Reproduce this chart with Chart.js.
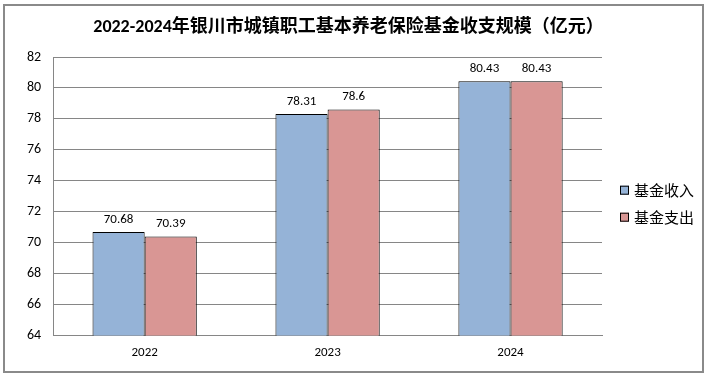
<!DOCTYPE html>
<html><head><meta charset="utf-8">
<script src="https://cdn.jsdelivr.net/npm/chart.js@4/dist/chart.umd.min.js"></script>
<style>
html,body{margin:0;padding:0;background:#fff;}
#frame{position:absolute;left:3px;top:4px;width:697px;height:365px;border:2px solid #8a8a8a;background:#fff;}
canvas{display:block;}
</style></head>
<body>
<div id="frame"><canvas id="c" width="697" height="365"></canvas></div>
<script>
const categories = ['2022', '2023', '2024'];
const incomeValues = [70.68, 78.31, 80.43];
const expenseValues = [70.39, 78.6, 80.43];
const seriesNames = ['基金收入', '基金支出'];
const titleText = '2022-2024年银川市城镇职工基本养老保险基金收支规模（亿元）';

const fontFam = "Calibri, Carlito, 'Noto Sans CJK SC', 'Noto Sans', sans-serif";

const labelPlugin = {
  id: 'valueLabels',
  afterDatasetsDraw(chart) {
    const ctx = chart.ctx;
    ctx.save();
    ctx.font = "13px " + fontFam;
    ctx.fillStyle = '#000';
    ctx.textAlign = 'center';
    ctx.textBaseline = 'bottom';
    chart.data.datasets.forEach((ds, i) => {
      const meta = chart.getDatasetMeta(i);
      meta.data.forEach((bar, j) => {
        ctx.fillText(String(ds.data[j]), bar.x, bar.y - 6);
      });
    });
    ctx.restore();
  }
};

const legendPlugin = {
  id: 'sideLegend',
  afterDraw(chart) {
    const ctx = chart.ctx;
    const ca = chart.chartArea;
    ctx.save();
    // title
    ctx.font = "bold 18px Calibri, Carlito, 'Noto Sans CJK SC', sans-serif";
    ctx.textAlign = 'center';
    ctx.textBaseline = 'middle';
    ctx.fillStyle = '#000';
    ctx.fillText(titleText, chart.width / 2 - 5, 21);
    // legend
    ctx.font = "15px 'Noto Sans CJK SC', sans-serif";
    ctx.textAlign = 'left';
    const x0 = ca.right + 18;
    const yMid = (ca.top + ca.bottom) / 2 + 7;
    chart.data.datasets.forEach((ds, i) => {
      const y = yMid - 13 + i * 27;
      ctx.fillStyle = ds.backgroundColor;
      ctx.fillRect(x0, y - 4.5, 9, 9);
      ctx.strokeStyle = '#000';
      ctx.lineWidth = 1;
      ctx.strokeRect(x0 + 0.5, y - 4, 8, 8);
      ctx.fillStyle = '#000';
      ctx.fillText(ds.label, x0 + 14, y);
    });
    ctx.restore();
  }
};

new Chart(document.getElementById('c'), {
  type: 'bar',
  data: {
    labels: categories,
    datasets: [
      { label: seriesNames[0], data: incomeValues, backgroundColor: '#95b3d7', borderColor: '#000', borderWidth: 1 },
      { label: seriesNames[1], data: expenseValues, backgroundColor: '#d99694', borderColor: '#000', borderWidth: 1 }
    ]
  },
  options: {
    responsive: false,
    animation: false,
    devicePixelRatio: 1,
    layout: { padding: { left: 10, right: 100, top: 51, bottom: 0 } },
    datasets: { bar: { categoryPercentage: 0.57, barPercentage: 1.0 } },
    plugins: {
      title: { display: false },
      legend: { display: false },
      tooltip: { enabled: false }
    },
    scales: {
      x: {
        grid: { display: false, drawTicks: false },
        border: { display: true, color: '#868686', width: 1 },
        ticks: { color: '#000', padding: 10, font: { family: fontFam, size: 13 } }
      },
      y: {
        min: 64, max: 82,
        ticks: { stepSize: 2, color: '#000', padding: 12, font: { family: fontFam, size: 14 } },
        grid: { color: '#868686', drawTicks: false },
        border: { display: true, color: '#868686', width: 1 }
      }
    }
  },
  plugins: [labelPlugin, legendPlugin]
});
</script>
</body></html>
